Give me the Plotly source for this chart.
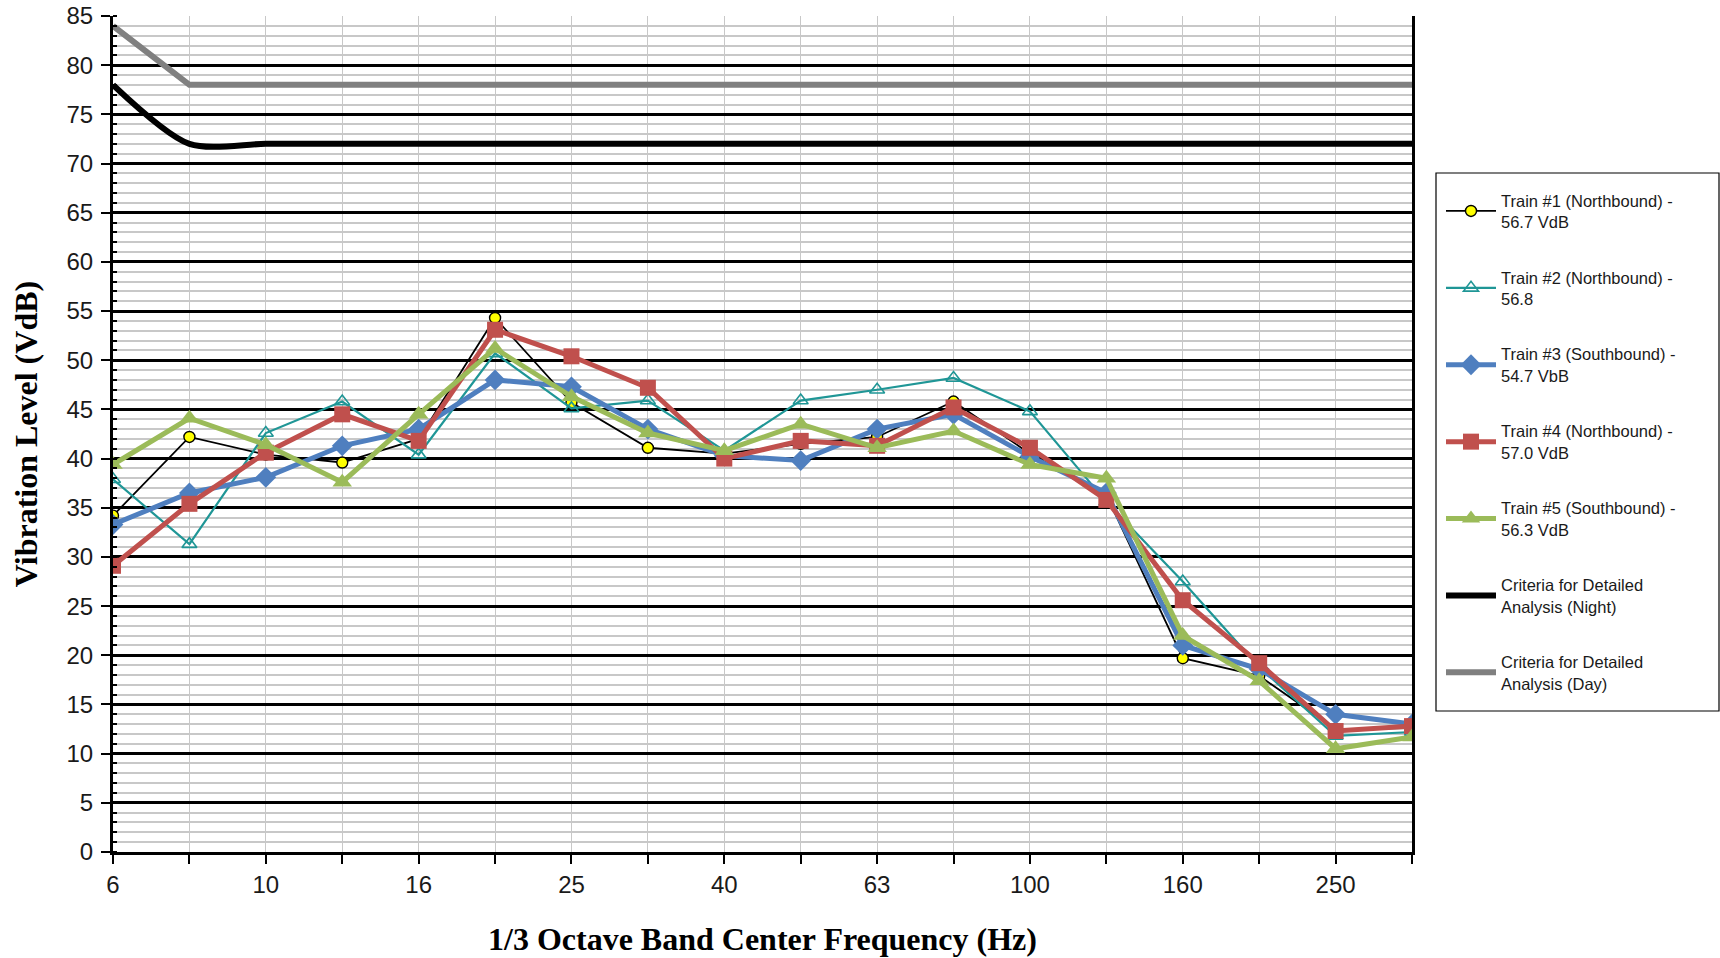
import plotly.graph_objects as go

freqs = ["6", "8", "10", "12.5", "16", "20", "25", "31.5", "40", "50", "63", "80",
         "100", "125", "160", "200", "250", "315"]
tick_text = ["6", "", "10", "", "16", "", "25", "", "40", "", "63", "", "100", "",
             "160", "", "250", ""]

train1 = [34.2, 42.2, 40.4, 39.6, 42.0, 54.3, 45.7, 41.1, 40.5, 41.5, 42.2, 45.8,
          40.5, 36.3, 19.7, 17.9, 12.5, 12.6]
train2 = [37.9, 31.3, 42.6, 45.8, 40.4, 50.7, 45.1, 45.9, 40.8, 45.9, 47.0, 48.2,
          44.8, 35.6, 27.5, 18.8, 11.8, 12.2]
train3 = [33.3, 36.5, 38.1, 41.3, 43.0, 48.0, 47.3, 43.0, 40.3, 39.8, 43.0, 44.5,
          40.2, 36.5, 21.0, 18.6, 14.0, 13.0]
train4 = [29.1, 35.4, 40.6, 44.5, 41.8, 53.1, 50.4, 47.2, 40.0, 41.8, 41.3, 45.2,
          41.1, 35.8, 25.6, 19.2, 12.3, 12.8]
train5 = [39.4, 44.1, 41.4, 37.6, 44.5, 51.2, 46.3, 42.6, 40.8, 43.5, 41.1, 42.8,
          39.4, 38.0, 22.0, 17.4, 10.5, 11.7]
night = [78, 72, 72, 72, 72, 72, 72, 72, 72, 72, 72, 72, 72, 72, 72, 72, 72, 72]
day = [84, 78, 78, 78, 78, 78, 78, 78, 78, 78, 78, 78, 78, 78, 78, 78, 78, 78]

names = [
    "Train #1 (Northbound) -<br>56.7 VdB",
    "Train #2 (Northbound) -<br>56.8",
    "Train #3 (Southbound) -<br>54.7 VbB",
    "Train #4 (Northbound) -<br>57.0 VdB",
    "Train #5 (Southbound) -<br>56.3 VdB",
    "Criteria for Detailed<br>Analysis (Night)",
    "Criteria for Detailed<br>Analysis (Day)",
]

fig = go.Figure()

fig.add_trace(go.Scatter(
    x=freqs, y=train1, name=names[0], mode="lines+markers", legendgroup="g1",
    line=dict(color="black", width=1.8),
    marker=dict(symbol="circle", size=11, color="#ffff00", line=dict(color="black", width=1.4))))
fig.add_trace(go.Scatter(
    x=freqs, y=train2, name=names[1], mode="lines+markers", legendgroup="g2",
    line=dict(color="#1f9696", width=2.2),
    marker=dict(symbol="triangle-up-open", size=13, color="#1f9696", line=dict(width=1.6))))
fig.add_trace(go.Scatter(
    x=freqs, y=train3, name=names[2], mode="lines+markers", legendgroup="g3",
    line=dict(color="#4f7fbf", width=5),
    marker=dict(symbol="diamond", size=16, color="#4f7fbf")))
fig.add_trace(go.Scatter(
    x=freqs, y=train4, name=names[3], mode="lines+markers", legendgroup="g4",
    line=dict(color="#c0504d", width=5),
    marker=dict(symbol="square", size=16, color="#c0504d")))
fig.add_trace(go.Scatter(
    x=freqs, y=train5, name=names[4], mode="lines+markers", legendgroup="g5",
    line=dict(color="#9bbb59", width=5),
    marker=dict(symbol="triangle-up", size=17, color="#9bbb59")))
fig.add_trace(go.Scatter(
    x=freqs, y=night, name=names[5], mode="lines", legendgroup="g6",
    line=dict(color="black", width=6, shape="spline", smoothing=0.8)))
fig.add_trace(go.Scatter(
    x=freqs, y=day, name=names[6], mode="lines", legendgroup="g7",
    line=dict(color="#808080", width=6)))

L, R, T, B = 113, 1412, 16, 852
W, H = 1720, 958

def px_x(p):
    return (p - L) / (R - L)

def px_y(p):
    return (B - p) / (B - T)

fig.update_layout(
    width=W, height=H, autosize=False,
    margin=dict(l=L, r=W - R, t=T, b=H - B),
    paper_bgcolor="white", plot_bgcolor="white",
    font=dict(family="Liberation Sans, Arial", color="#1a1a1a"),
    showlegend=True,
    legend=dict(
        x=px_x(1441), y=px_y(183), xanchor="left", yanchor="top",
        font=dict(size=16.5, family="Liberation Sans, Arial", color="#1a1a1a"),
        tracegroupgap=31, traceorder="grouped", itemwidth=50,
        bgcolor="rgba(0,0,0,0)", borderwidth=0,
    ),
    shapes=[dict(type="rect", xref="paper", yref="paper",
                 x0=px_x(1436), x1=px_x(1719), y0=px_y(711), y1=px_y(173),
                 line=dict(color="black", width=1.2), fillcolor="rgba(0,0,0,0)",
                 layer="below")],
)

fig.update_xaxes(
    type="category", categoryorder="array", categoryarray=freqs,
    range=[0, len(freqs) - 1], automargin=False,
    tickmode="array", tickvals=freqs, ticktext=tick_text,
    tickfont=dict(size=24, family="Liberation Sans, Arial", color="#1a1a1a"),
    ticks="outside", ticklen=9, tickwidth=1.5, tickcolor="black",
    showgrid=True, gridcolor="#c8c8c8", gridwidth=1,
    showline=True, linecolor="black", linewidth=3,
    zeroline=False,
    title=dict(text="<b>1/3 Octave Band Center Frequency (Hz)</b>",
               font=dict(size=32, family="Liberation Serif, Times New Roman", color="#000000"),
               standoff=31),
)

fig.update_yaxes(
    range=[0, 85], tickmode="linear", tick0=0, dtick=5, automargin=False,
    tickfont=dict(size=24, family="Liberation Sans, Arial", color="#1a1a1a"),
    ticks="outside", ticklen=9, tickwidth=1.5, tickcolor="black",
    ticklabelstandoff=3,
    showgrid=True, gridcolor="black", gridwidth=3,
    minor=dict(dtick=1, showgrid=True, gridcolor="#c8c8c8", gridwidth=2,
               ticks="inside", ticklen=4, tickcolor="black"),
    showline=True, linecolor="black", linewidth=3, mirror=True,
    zeroline=False,
    title=dict(text="<b>Vibration Level (VdB)</b>",
               font=dict(size=32, family="Liberation Serif, Times New Roman", color="#000000"),
               standoff=20),
)

fig.write_html("out.html")
